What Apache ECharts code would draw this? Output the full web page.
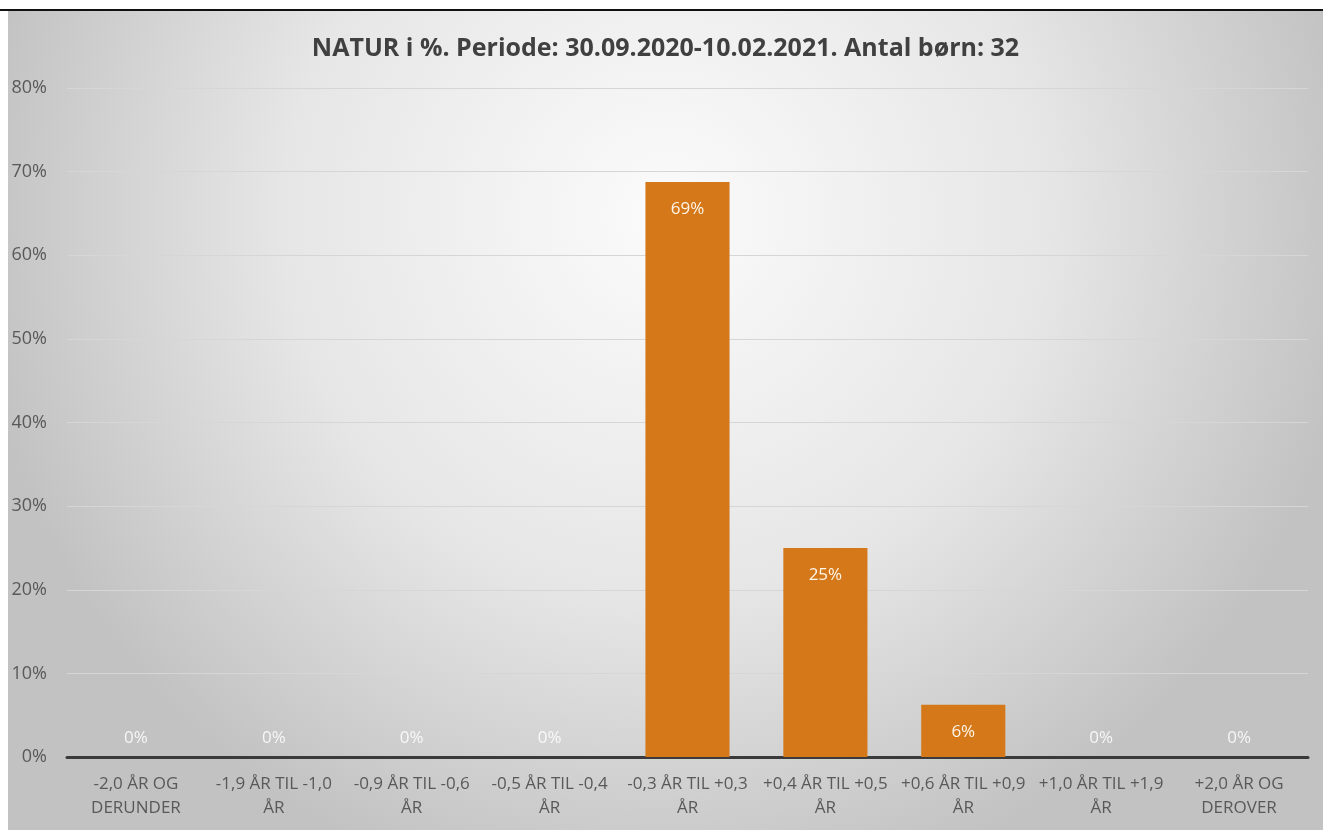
<!DOCTYPE html>
<html>
<head>
<meta charset="utf-8">
<script src="https://cdn.jsdelivr.net/npm/echarts@6/dist/echarts.min.js"></script>
<style>
html,body{margin:0;padding:0;background:#fff;width:1323px;height:830px;overflow:hidden;}
#line{position:absolute;left:0;top:9px;width:1323px;height:2px;background:#111;}
#chart{position:absolute;left:8px;top:11px;width:1315px;height:819px;}
</style>
</head>
<body>
<div id="line"></div>
<div id="chart"></div>
<script>
const titleText = 'NATUR i %. Periode: 30.09.2020-10.02.2021. Antal børn: 32';
const categories = [
  '-2,0 ÅR OG\nDERUNDER',
  '-1,9 ÅR TIL -1,0\nÅR',
  '-0,9 ÅR TIL -0,6\nÅR',
  '-0,5 ÅR TIL -0,4\nÅR',
  '-0,3 ÅR TIL +0,3\nÅR',
  '+0,4 ÅR TIL +0,5\nÅR',
  '+0,6 ÅR TIL +0,9\nÅR',
  '+1,0 ÅR TIL +1,9\nÅR',
  '+2,0 ÅR OG\nDEROVER'
];
const values = [0, 0, 0, 0, 68.75, 25, 6.25, 0, 0];
const yTicks = [0, 10, 20, 30, 40, 50, 60, 70, 80];

const chart = echarts.init(document.getElementById('chart'));
const data = values.map(v => ({
  value: v,
  label: v === 0
    ? {position: 'top', distance: 10, color: 'rgba(255,255,255,0.85)'}
    : {position: 'insideTop', distance: 19, color: '#fff6e8'}
}));
chart.setOption({
  backgroundColor: {
    type: 'radial', x: 0.5, y: 0.25, r: 0.85,
    colorStops: [
      {offset: 0, color: '#fbfbfb'},
      {offset: 0.55, color: '#e6e6e6'},
      {offset: 1, color: '#c2c2c2'}
    ]
  },
  animation: false,
  title: {
    text: titleText,
    left: 'center',
    top: 20,
    textStyle: {fontFamily: 'Open Sans', fontSize: 25, fontWeight: 'bold', color: '#404040'}
  },
  grid: {left: 59, right: 15, top: 77, bottom: 73},
  xAxis: {
    type: 'category',
    data: categories,
    axisLine: {lineStyle: {color: '#3a3a3a', width: 3}},
    axisTick: {show: false},
    axisLabel: {
      interval: 0, margin: 15, lineHeight: 24,
      fontFamily: 'Open Sans', fontSize: 17, color: '#595959'
    }
  },
  yAxis: {
    type: 'value',
    min: yTicks[0], max: yTicks[yTicks.length - 1], interval: 10,
    axisLine: {show: false},
    axisTick: {show: false},
    splitLine: {lineStyle: {color: '#d6d6d6', width: 1}},
    axisLabel: {
      formatter: v => v + '%', margin: 20,
      fontFamily: 'Open Sans', fontSize: 18, color: '#595959'
    }
  },
  series: [{
    type: 'bar',
    data: data,
    barWidth: '61%',
    itemStyle: {color: '#d4781a'},
    label: {
      show: true,
      formatter: p => Math.round(p.value) + '%',
      fontFamily: 'Open Sans', fontSize: 17
    }
  }]
});
</script>
</body>
</html>
